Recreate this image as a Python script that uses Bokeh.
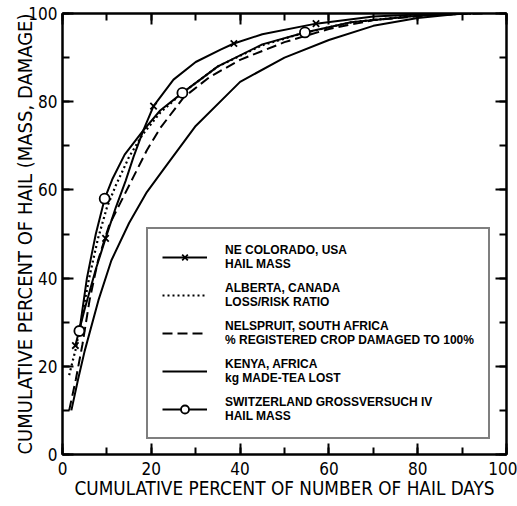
from bokeh.plotting import figure
from bokeh.models import Range1d, SingleIntervalTicker, LinearAxis, Legend, LegendItem
from bokeh.embed import file_html
from bokeh.resources import INLINE

# ---- data ----
colorado_x = [2.9, 5.0, 7.5, 9.7, 12.0, 14.2, 16.0, 18.2, 20.5, 25.0, 30.0, 35.6, 38.6, 45.0, 57.1, 70.0, 85.0]
colorado_y = [24.7, 33.0, 42.0, 49.0, 56.0, 62.0, 67.5, 73.5, 79.0, 85.0, 89.0, 91.8, 93.2, 95.3, 97.7, 99.3, 100.0]
colorado_mx = [2.9, 9.7, 20.5, 38.6, 57.1]
colorado_my = [24.7, 49.0, 79.0, 93.2, 97.7]

alberta_x = [1.5, 3.0, 4.5, 6.0, 8.0, 10.0, 12.0, 15.0, 18.0, 22.0, 27.0, 35.0, 45.0, 54.0, 65.0, 80.0, 92.0]
alberta_y = [18.0, 24.0, 32.0, 40.0, 49.0, 56.0, 61.0, 67.5, 72.5, 77.5, 82.0, 88.0, 92.8, 95.5, 98.0, 99.6, 100.0]

nelspruit_x = [1.5, 3.0, 4.5, 6.1, 8.0, 10.5, 13.0, 16.0, 19.0, 22.0, 27.3, 33.0, 40.0, 50.0, 60.0, 70.0, 85.0, 95.0]
nelspruit_y = [10.0, 17.0, 25.0, 35.0, 44.0, 52.0, 57.0, 63.0, 69.0, 74.0, 81.0, 85.5, 89.5, 93.5, 96.5, 98.5, 99.8, 100.0]

kenya_x = [2.0, 3.5, 5.0, 8.1, 11.0, 15.0, 19.0, 23.0, 30.0, 40.0, 50.0, 60.0, 70.0, 80.0, 90.0]
kenya_y = [10.0, 17.0, 23.5, 35.0, 44.0, 52.5, 59.5, 65.0, 74.5, 84.5, 90.0, 94.0, 97.2, 99.0, 100.0]

swiss_x = [3.8, 5.5, 7.5, 9.5, 11.3, 14.0, 18.2, 22.0, 27.0, 35.0, 45.0, 54.6, 65.0, 80.0, 92.0]
swiss_y = [28.0, 40.0, 50.0, 58.0, 62.6, 68.0, 73.5, 78.0, 82.0, 88.0, 93.0, 95.7, 98.0, 99.5, 100.0]
swiss_mx = [3.8, 9.5, 27.0, 54.6]
swiss_my = [28.0, 58.0, 82.0, 95.7]

labels = [
    "NE COLORADO, USA\nHAIL MASS",
    "ALBERTA, CANADA\nLOSS/RISK RATIO",
    "NELSPRUIT, SOUTH AFRICA\n% REGISTERED CROP DAMAGED TO 100%",
    "KENYA, AFRICA\nkg MADE-TEA LOST",
    "SWITZERLAND GROSSVERSUCH IV\nHAIL MASS",
]
x_title = "CUMULATIVE PERCENT OF NUMBER OF HAIL DAYS"
y_title = "CUMULATIVE PERCENT OF HAIL (MASS, DAMAGE)"

AX_FONT = "DejaVu Sans Condensed, DejaVu Sans, sans-serif"

p = figure(width=517, height=506, output_backend="svg", toolbar_location=None,
           x_range=Range1d(0, 100), y_range=Range1d(0, 100),
           min_border_left=62, min_border_right=11, min_border_top=13, min_border_bottom=52)
p.grid.visible = False
p.outline_line_color = "black"
p.outline_line_width = 2
p.background_fill_color = "white"
p.border_fill_color = "white"


def style_axis(ax, show_labels=True):
    ax.ticker = SingleIntervalTicker(interval=20, num_minor_ticks=2)
    ax.axis_line_color = "black"
    ax.axis_line_width = 2
    ax.major_tick_in = 11
    ax.major_tick_out = 0
    ax.minor_tick_in = 7
    ax.minor_tick_out = 0
    ax.major_tick_line_width = 2
    ax.minor_tick_line_width = 2
    ax.major_tick_line_color = "black"
    ax.minor_tick_line_color = "black"
    if show_labels:
        ax.major_label_text_font = AX_FONT
        ax.major_label_text_font_size = "17px"
        ax.major_label_text_color = "black"
        ax.major_label_standoff = 5
        ax.axis_label_text_font = AX_FONT
        ax.axis_label_text_font_style = "normal"
        ax.axis_label_text_color = "black"
    else:
        ax.major_label_text_font_size = "0px"
        ax.major_label_text_color = None
        ax.major_label_standoff = 0
        ax.axis_label_standoff = 0


style_axis(p.xaxis[0])
style_axis(p.yaxis[0])
p.xaxis[0].axis_label = x_title
p.yaxis[0].axis_label = y_title
p.xaxis[0].axis_label_text_font_size = "18.8px"
p.yaxis[0].axis_label_text_font_size = "20px"
p.xaxis[0].major_label_standoff = 7
p.xaxis[0].axis_label_standoff = 0
p.yaxis[0].axis_label_standoff = -12

top = LinearAxis()
right = LinearAxis()
style_axis(top, False)
style_axis(right, False)
p.add_layout(top, "above")
p.add_layout(right, "right")

r_col = p.line(colorado_x, colorado_y, line_color="black", line_width=2)
r_colm = p.scatter(colorado_mx, colorado_my, marker="x", size=9, line_color="black", line_width=1.8)
r_alb = p.line(alberta_x, alberta_y, line_color="black", line_width=2.2, line_dash="2 3")
r_nel = p.line(nelspruit_x, nelspruit_y, line_color="black", line_width=2, line_dash="10 5")
r_ken = p.line(kenya_x, kenya_y, line_color="black", line_width=2)
r_sw = p.line(swiss_x, swiss_y, line_color="black", line_width=2)
r_swm = p.scatter(swiss_mx, swiss_my, marker="circle", size=10, line_color="black",
                  line_width=1.8, fill_color="white")

legend = Legend(items=[
    LegendItem(label=labels[0], renderers=[r_col, r_colm]),
    LegendItem(label=labels[1], renderers=[r_alb]),
    LegendItem(label=labels[2], renderers=[r_nel]),
    LegendItem(label=labels[3], renderers=[r_ken]),
    LegendItem(label=labels[4], renderers=[r_sw, r_swm]),
], location=(84, 15))
legend.label_text_font = "Liberation Sans, Arial, sans-serif"
legend.label_text_font_style = "bold"
legend.label_text_font_size = "12px"
legend.label_text_line_height = 1.1
legend.label_text_color = "black"
legend.glyph_width = 45
legend.glyph_height = 20
legend.label_standoff = 18
legend.padding = 14
legend.spacing = 10
legend.margin = 0
legend.border_line_color = "black"
legend.border_line_width = 2
legend.background_fill_color = "white"
legend.background_fill_alpha = 1.0
p.add_layout(legend)

open("out.html", "w").write(file_html(p, INLINE))
